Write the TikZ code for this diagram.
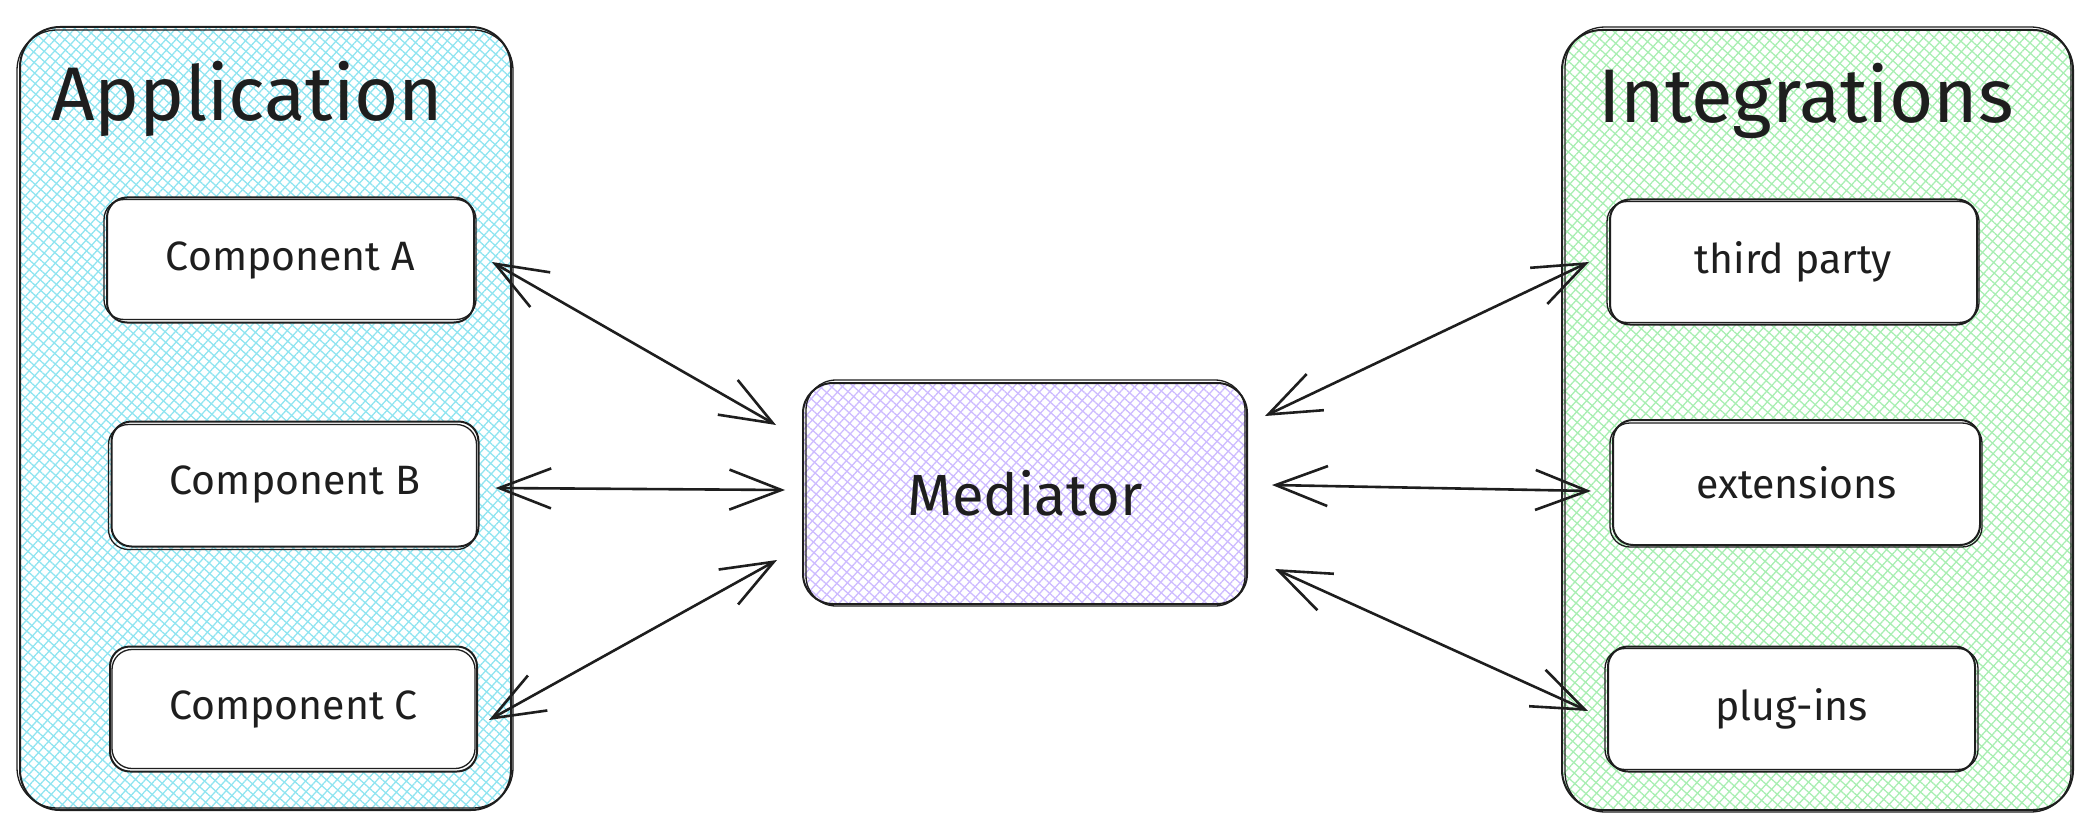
\documentclass[tikz,border=0pt]{standalone}
\usepackage{fontspec}
\setmainfont{Fira Sans}
\usetikzlibrary{arrows.meta,patterns.meta}
\definecolor{ink}{HTML}{1E1E1E}
\definecolor{hcyan}{HTML}{90E4F0}
\definecolor{hviolet}{HTML}{CDBBFF}
\definecolor{hgreen}{HTML}{A8EEB2}
\tikzset{
  hatch/.style={preaction={pattern={Lines[angle=48,distance=7.5pt,line width=1.3pt]},pattern color=#1},
                pattern={Lines[angle=-42,distance=7.5pt,line width=1.3pt]},pattern color=#1},
  groupbox/.style={draw=ink, line width=2pt, rounded corners=40pt, inner sep=0pt, outer sep=0pt},
  compbox/.style={draw=ink, line width=2pt, fill=white, rounded corners=20pt, inner sep=0pt, outer sep=0pt,
                  minimum width=367pt, minimum height=125pt, text=ink, font=\fontsize{41}{49}\selectfont},
  medbox/.style={draw=ink, line width=2pt, rounded corners=30pt, inner sep=0pt, outer sep=0pt,
                  minimum width=444pt, minimum height=221pt, text=ink, font=\fontsize{58}{66}\selectfont},
  title/.style={text=ink, inner sep=0pt, anchor=base west, font=\fontsize{76}{86}\selectfont},
  skline/.style={draw=ink, line width=1.3pt},
  conn/.style={draw=ink, line width=2.6pt,
    {Straight Barb[length=52pt,width=40pt,line width=2.6pt]}-{Straight Barb[length=52pt,width=40pt,line width=2.6pt]}},
}
\newcommand\skx[4]{\draw[skline, rounded corners=#2] ([shift={(#3)}]#1.north west) rectangle ([shift={(#4)}]#1.south east);}
\begin{document}
\begin{tikzpicture}[x=1pt,y=-1pt]
\useasboundingbox (0,0) rectangle (2092,829);
% groups
\node[groupbox, hatch=hcyan, minimum width=491pt, minimum height=783pt] (app) at (265.5,418.5) {};
\skx{app}{40pt}{-3,3}{2,-2}
\node[title] (apptitle) at (51,121) {Application};
\node[groupbox, hatch=hgreen, minimum width=511pt, minimum height=780pt] (int) at (1817.5,420) {};
\skx{int}{40pt}{3,-3}{-2,2}
\node[title] (inttitle) at (1598,123) {Integrations};
% mediator
\node[medbox, hatch=hviolet] (M) at (1025,493.5) {Mediator};
\skx{M}{30pt}{3,-3}{-2,2}
% components
\node[compbox] (A) at (290.5,260) {Component A};
\skx{A}{20pt}{-3,2}{2,-3}
\node[compbox] (B) at (295,484) {Component B};
\skx{B}{20pt}{-3,3}{-2,3}
\node[compbox] (C) at (293.5,709) {Component C};
\skx{C}{20pt}{2,3}{-2,-3}
\node[compbox] (T) at (1793.5,262) {third party};
\skx{T}{20pt}{-3,2}{2,-2}
\node[compbox] (E) at (1796.5,482.5) {extensions};
\skx{E}{20pt}{-3,3}{2,2}
\node[compbox] (P) at (1791.5,709) {plug-ins};
\skx{P}{20pt}{-3,2}{3,-2}
% connectors
\draw[conn] ([shift={(18,2)}]A.east) -- ([shift={(-27,-68.5)}]M.west);
\draw[conn] ([shift={(17,4)}]B.east) -- ([shift={(-18,-3.5)}]M.west);
\draw[conn] ([shift={(12,11)}]C.east) -- ([shift={(-26,66.5)}]M.west);
\draw[conn] ([shift={(18,-77.5)}]M.east) -- ([shift={(-21,0)}]T.west);
\draw[conn] ([shift={(25,-8.5)}]M.east) -- ([shift={(-22,8.5)}]E.west);
\draw[conn] ([shift={(28,75.5)}]M.east) -- ([shift={(-20,2)}]P.west);
\end{tikzpicture}
\end{document}
